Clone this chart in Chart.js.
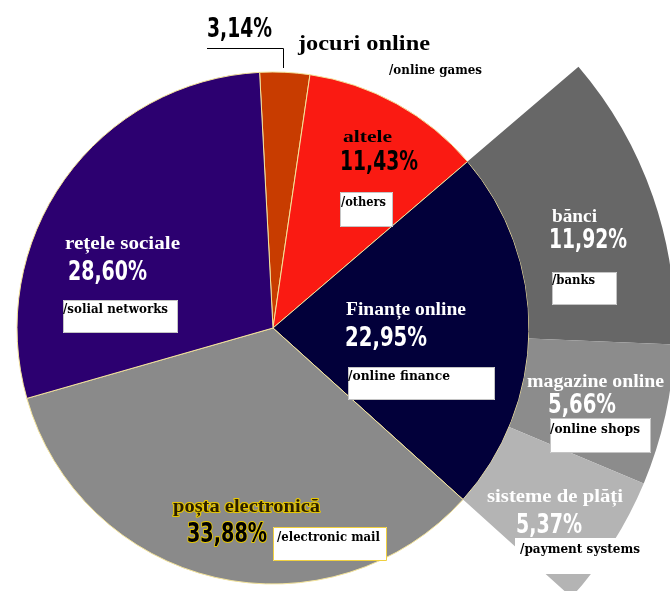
<!DOCTYPE html>
<html>
<head>
<meta charset="utf-8">
<script src="https://cdn.jsdelivr.net/npm/chart.js@4"></script>
<style>
html,body{margin:0;padding:0;background:#fff;overflow:hidden}
#wrap{position:relative;width:670px;height:591px;overflow:hidden}
#c{position:absolute;left:-129px;top:-74px}
</style>
</head>
<body>
<div id="wrap"><canvas id="c" width="804" height="804"></canvas></div>
<script>
/* DATA */
const mainLabels=["jocuri online","altele","Finanțe online","poșta electronică","rețele sociale"];
const mainEn=["/online games","/others","/online finance","/electronic mail","/solial networks"];
const mainValues=[3.14,11.43,22.95,33.88,28.60];
const mainColors=["#c83c00","#fa1a12","#02003a","#8a8a8a","#2c0070"];

// breakdown of "Finanțe online"
const subLabels=["bănci","magazine online","sisteme de plăți"];
const subEn=["/banks","/online shops","/payment systems"];
const subValues=[11.92,5.66,5.37];
const subColors=["#676767","#8c8c8c","#b4b4b4"];

/* FAN RING (transparent outside the finance slice) */
const before=mainValues[0]+mainValues[1];
const after=mainValues[3]+mainValues[4];
const fanData=[before,...subValues,after];
const fanColors=["rgba(0,0,0,0)",...subColors,"rgba(0,0,0,0)"];

function pct(v){return v.toFixed(2).replace(".",",")+"%";}

/* LABEL LAYOUT (page px): name [x,baseline,width,size], pct [x,baseline,width], en [x,baseline,width], box [x,y,w,h] */
const mainPos=[
{name:[298,50,132,22],pct:[207,37,65],en:[389,74,93],box:null,col:"#000"},
{name:[343,142,49,17],pct:[340,170,78],en:[341,206,45],box:[340,192,53,35],col:"#000"},
{name:[346,315,120,18],pct:[345,346,82],en:[348,380,102],box:[348,367,147,33],col:"#fff"},
{name:[173,512,147,18],pct:[187,542,80],en:[277,541,103],box:[273,527,114,34],col:"#2a1e00",halo:true},
{name:[65,249,115,18],pct:[68,280,79],en:[63,313,105],box:[63,300,115,33],col:"#fff"}
];
const subPos=[
{name:[552,222,45,18],pct:[549,248,78],en:[552,284,43],box:[552,272,65,33]},
{name:[527,387,137,18],pct:[548,413,68],en:[550,433,90],box:[550,418,101,35]},
{name:[487,502,136,18],pct:[516,533,66],en:[520,553,120],box:[515,538,135,36],noBorder:true}
];

function fitText(ctx,txt,x,y,w,stroke){
const m=ctx.measureText(txt).width;
ctx.save();
ctx.translate(x,y);
ctx.scale(w/m,1);
if(stroke)ctx.strokeText(txt,0,0);
ctx.fillText(txt,0,0);
ctx.restore();
}

function drawGroup(ctx,name,val,en,p,col,halo){
if(p.box){
ctx.fillStyle="#fff";
ctx.fillRect(p.box[0],p.box[1],p.box[2],p.box[3]);
if(!p.noBorder){
ctx.strokeStyle=halo?"#f0d040":"#c4c4c4";
ctx.lineWidth=1;
ctx.strokeRect(p.box[0]+0.5,p.box[1]+0.5,p.box[2]-1,p.box[3]-1);
}
}
ctx.textBaseline="alphabetic";
ctx.textAlign="left";
ctx.fillStyle=col;
ctx.strokeStyle="#e8c800";
ctx.lineWidth=2;
ctx.lineJoin="round";
ctx.font='bold '+p.name[3]+'px "Liberation Serif",serif';
fitText(ctx,name,p.name[0],p.name[1],p.name[2],halo);
ctx.font='bold 27px "DejaVu Sans Condensed","DejaVu Sans",sans-serif';
ctx.fillStyle=halo?"#000":col;
fitText(ctx,pct(val),p.pct[0],p.pct[1],p.pct[2],halo);
ctx.fillStyle="#000";
ctx.font='bold 13px "DejaVu Serif",serif';
fitText(ctx,en,p.en[0],p.en[1],p.en[2],false);
}

const labelPlugin={
id:"labels",
afterDraw(chart){
const ctx=chart.ctx;
const a=chart.chartArea;
const cx=(a.left+a.right)/2, cy=(a.top+a.bottom)/2;
ctx.save();
ctx.translate(cx-273,cy-328);
// leader line for the small slice
ctx.strokeStyle="#000";
ctx.lineWidth=1;
ctx.beginPath();
ctx.moveTo(207,48.5);ctx.lineTo(283.5,48.5);ctx.lineTo(283.5,68);
ctx.stroke();
mainLabels.forEach((l,i)=>{
const p=mainPos[i];
drawGroup(ctx,l,mainValues[i],mainEn[i],p,p.col,p.halo);
});
subLabels.forEach((l,i)=>{
drawGroup(ctx,l,subValues[i],subEn[i],subPos[i],"#fff",false);
});
ctx.restore();
}
};

/* CHART */
new Chart(document.getElementById("c"),{
type:"pie",
data:{
labels:mainLabels,
datasets:[
{data:fanData,backgroundColor:fanColors,borderWidth:0,weight:146},
{data:mainValues,backgroundColor:mainColors,borderColor:"#f3e39a",borderWidth:1,weight:256}
]
},
options:{
responsive:false,
animation:false,
rotation:-3,
layout:{padding:0},
plugins:{legend:{display:false},tooltip:{enabled:false}}
},
plugins:[labelPlugin]
});
</script>
</body>
</html>
